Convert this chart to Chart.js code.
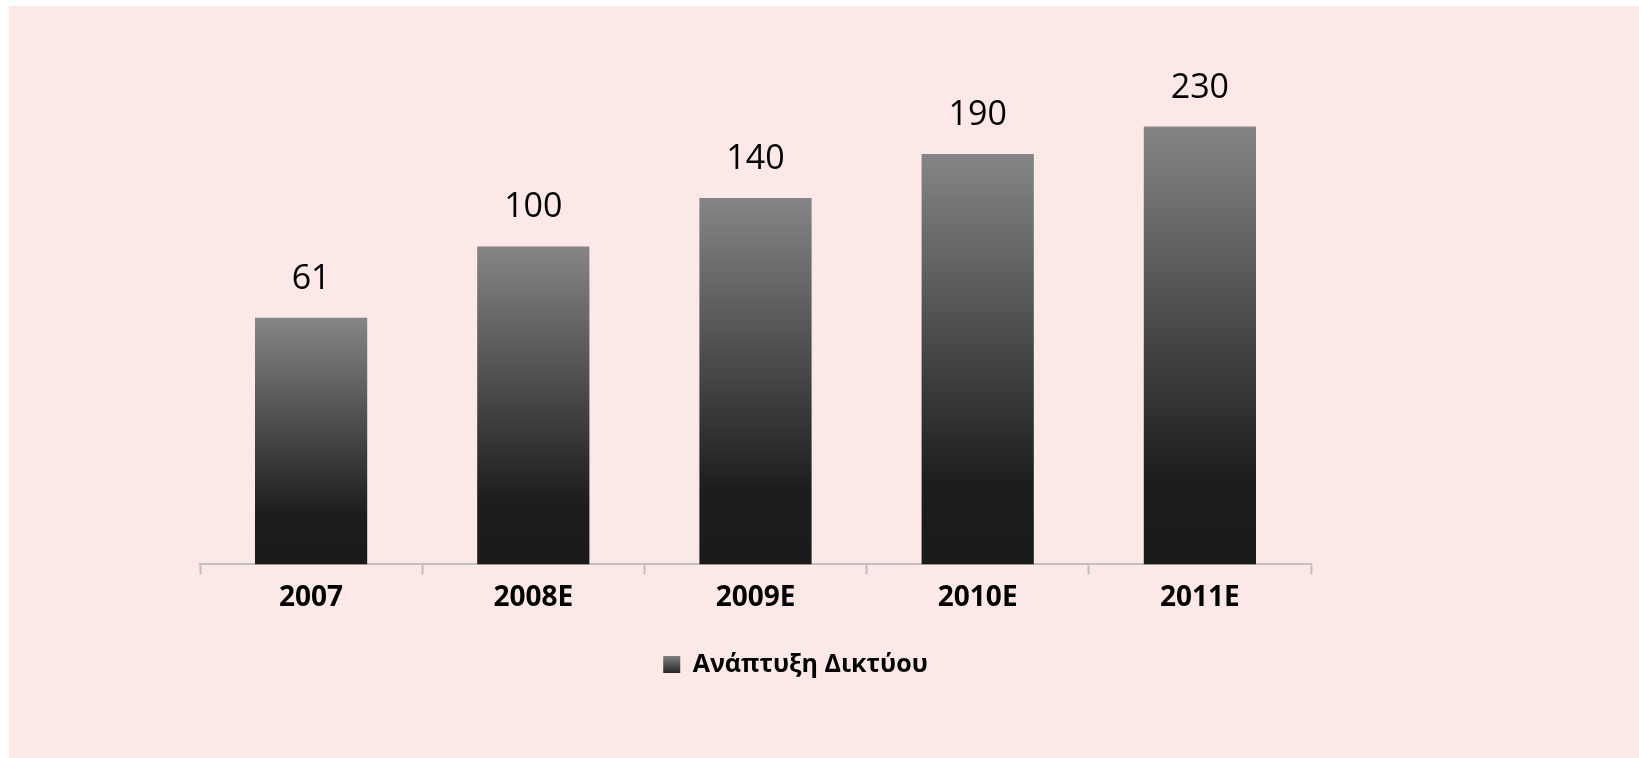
<!DOCTYPE html>
<html lang="el">
<head>
    <meta charset="UTF-8">
    <title>Ανάπτυξη Δικτύου</title>
    <script src="https://cdn.jsdelivr.net/npm/chart.js"></script>
    <style>
        body { margin: 0; background: #ffffff; }
        #panel { position: absolute; left: 9px; top: 6px; right: 0; bottom: 0; background: #fde8e8; }
        #wrap { position: absolute; left: 0; top: 0; width: 1639px; height: 758px; }
    </style>
</head>
<body>
    <div id="panel"></div>
    <div id="wrap">
        <canvas id="networkChart" width="1639" height="758"></canvas>
    </div>

    <script>
        // dedomena
        const years = ['2007', '2008E', '2009E', '2010E', '2011E'];
        const networkValues = [61, 100, 140, 190, 230];
        const seriesName = 'Ανάπτυξη Δικτύου';

        function barGradient(ctx) {
            const chart = ctx.chart;
            const area = chart.chartArea;
            if (!area) return '#555555';
            let top = area.top;
            if (ctx.type === 'data') top = chart.scales.y.getPixelForValue(ctx.raw);
            const g = chart.ctx.createLinearGradient(0, top, 0, area.bottom);
            g.addColorStop(0, '#858585');
            g.addColorStop(0.8, '#1d1d1d');
            g.addColorStop(1, '#1a1a1a');
            return g;
        }

        // etiketes timwn panw apo tis mpares
        const valueLabels = {
            id: 'valueLabels',
            afterDatasetsDraw(chart) {
                const ctx = chart.ctx;
                const meta = chart.getDatasetMeta(0);
                ctx.save();
                ctx.font = '34px "Open Sans"';
                ctx.fillStyle = '#000000';
                ctx.textAlign = 'center';
                ctx.textBaseline = 'alphabetic';
                meta.data.forEach((bar, i) => {
                    ctx.fillText(String(networkValues[i]), bar.x, bar.y - 29);
                });
                ctx.restore();
            }
        };

        // to legend einai ligo pio deksia apo to kentro
        const legendShift = {
            id: 'legendShift',
            afterLayout(chart) {
                if (chart.legend) {
                    chart.legend.left += 40;
                    chart.legend.right += 40;
                }
            }
        };

        const ctx = document.getElementById('networkChart').getContext('2d');
        new Chart(ctx, {
            type: 'bar',
            data: {
                labels: years,
                datasets: [{
                    label: seriesName,
                    data: networkValues,
                    backgroundColor: barGradient,
                    borderWidth: 0,
                    barPercentage: 0.505,
                    categoryPercentage: 1
                }]
            },
            options: {
                responsive: false,
                animation: false,
                layout: { padding: { left: 200, right: 328, top: 62, bottom: 71 } },
                scales: {
                    x: {
                        offset: true,
                        grid: {
                            offset: true,
                            drawOnChartArea: false,
                            drawTicks: true,
                            tickLength: 10,
                            tickWidth: 2,
                            color: '#bfbfbf'
                        },
                        border: { display: true, color: '#bfbfbf', width: 2 },
                        ticks: {
                            color: '#000000',
                            padding: 7,
                            font: { family: '"Open Sans"', size: 28, weight: 'bold' }
                        }
                    },
                    y: {
                        type: 'logarithmic',
                        min: 11,
                        max: 360,
                        display: false
                    }
                },
                plugins: {
                    tooltip: { enabled: false },
                    legend: {
                        position: 'bottom',
                        labels: {
                            color: '#000000',
                            boxWidth: 17,
                            boxHeight: 17,
                            padding: 30,
                            font: { family: '"Open Sans"', size: 25, weight: 'bold' },
                            generateLabels(chart) {
                                const items = Chart.defaults.plugins.legend.labels.generateLabels(chart);
                                const lg = chart.legend;
                                if (lg && lg.top !== undefined) {
                                    const g = chart.ctx.createLinearGradient(0, lg.top + 33, 0, lg.top + 33 + 20);
                                    g.addColorStop(0, '#858585');
                                    g.addColorStop(1, '#1a1a1a');
                                    items.forEach(it => { it.fillStyle = g; it.strokeStyle = 'rgba(0,0,0,0)'; it.lineWidth = 0; });
                                }
                                return items;
                            }
                        }
                    }
                }
            },
            plugins: [valueLabels, legendShift]
        });
    </script>
</body>
</html>
